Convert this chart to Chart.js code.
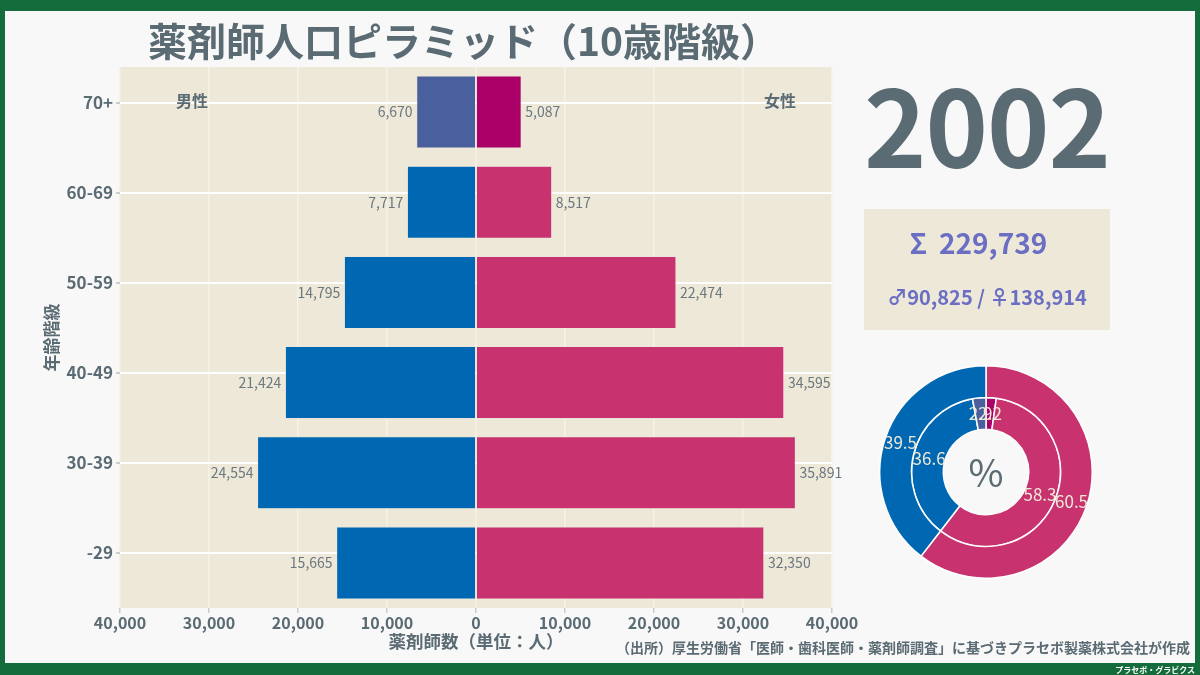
<!DOCTYPE html>
<html lang="ja">
<head>
<meta charset="utf-8">
<script src="https://cdn.jsdelivr.net/npm/chart.js@4.4.1/dist/chart.umd.min.js"></script>
<style>
  html, body { margin: 0; padding: 0; }
  body { width: 1200px; height: 675px; background: #146C3C; position: relative; overflow: hidden;
         font-family: "Noto Sans CJK JP", "Noto Sans", sans-serif; }
  #panel { position: absolute; left: 5px; top: 11px; width: 1190px; height: 652px; background: #F8F8F8; }
  #bar { position: absolute; left: 0; top: 0; }
  #donut { position: absolute; left: 879px; top: 365px; }
  .t { position: absolute; white-space: nowrap; color: #5A6B73; font-weight: 700; }
  #title { left: 148px; top: 14px; font-size: 39px; line-height: 50px; }
  #year { left: 864px; top: 62px; font-size: 106px; line-height: 120px; letter-spacing: -1px; }
  #box { position: absolute; left: 864px; top: 209px; width: 246px; height: 121px; background: #EEE8D8; }
  #sum { left: 864px; width: 229px; padding-right: 17px; text-align: center; top: 224px; font-size: 28px; line-height: 36px; color: #6B6FC4; }
  #sum .sig { margin-right: 12px; }
  #sub { left: 864px; width: 246px; text-align: center; top: 283px; font-size: 20px; line-height: 28px; color: #6B6FC4; }
  #male { left: 176px; top: 88px; font-size: 16px; line-height: 24px; }
  #female { left: 764px; top: 88px; font-size: 16px; line-height: 24px; }
  #src { right: 10px; top: 636px; font-size: 14px; line-height: 22px; font-weight: 700; }
  #brand { right: 5px; top: 664px; font-size: 8px; line-height: 11px; color: #ffffff; }
</style>
</head>
<body>
<div id="panel"></div>
<div id="box"></div>
<canvas id="bar" width="1200" height="675"></canvas>
<canvas id="donut" width="214" height="214"></canvas>
<div class="t" id="title">薬剤師人口ピラミッド（10歳階級）</div>
<div class="t" id="year"></div>
<div class="t" id="sum"><span class="sig">Σ</span><span id="sumv"></span></div>
<div class="t" id="sub"></div>
<div class="t" id="male">男性</div>
<div class="t" id="female">女性</div>
<div class="t" id="src">（出所）厚生労働省「医師・歯科医師・薬剤師調査」に基づきプラセボ製薬株式会社が作成</div>
<div class="t" id="brand">プラセボ・グラビクス</div>
<script>
const surveyYear = '2002';
const ageGroups = ['70+', '60-69', '50-59', '40-49', '30-39', '-29'];
const maleCounts = [6670, 7717, 14795, 21424, 24554, 15665];
const femaleCounts = [5087, 8517, 22474, 34595, 35891, 32350];
const xMin = -40000;
const xMax = 40000;
const xStep = 10000;

const MALE_OLD = '#4A5F9E', MALE = '#0068B2', FEMALE_OLD = '#AA0068', FEMALE = '#C8336F';
const SLATE = '#5A6B73';
const FONT = '"Noto Sans CJK JP", "Noto Sans", sans-serif';
const fmt = n => n.toLocaleString('en-US');

const maleTotal = maleCounts.reduce((a, b) => a + b, 0);
const femaleTotal = femaleCounts.reduce((a, b) => a + b, 0);
const total = maleTotal + femaleTotal;

document.getElementById('year').textContent = surveyYear;
document.getElementById('sumv').textContent = fmt(total);
document.getElementById('sub').textContent = '♂' + fmt(maleTotal) + ' / ♀' + fmt(femaleTotal);

const plotBg = {
  id: 'plotBg',
  beforeDraw(chart) {
    const { ctx, chartArea: a } = chart;
    ctx.save();
    ctx.fillStyle = '#EEE8D8';
    ctx.fillRect(a.left, a.top, a.right - a.left, a.bottom - a.top);
    ctx.restore();
  }
};

const barLabels = {
  id: 'barLabels',
  afterDatasetsDraw(chart) {
    const ctx = chart.ctx;
    ctx.save();
    ctx.font = '14px ' + FONT;
    ctx.fillStyle = '#6A7880';
    ctx.textBaseline = 'middle';
    chart.data.datasets.forEach((ds, di) => {
      chart.getDatasetMeta(di).data.forEach((el, i) => {
        const v = Math.abs(ds.data[i]);
        if (ds.data[i] < 0) { ctx.textAlign = 'right'; ctx.fillText(fmt(v), el.x - 4, el.y); }
        else { ctx.textAlign = 'left'; ctx.fillText(fmt(v), el.x + 4, el.y); }
      });
    });
    ctx.restore();
  }
};

// tick row offset: labels sit slightly above the bar centres in the original
const tickMin = -0.4;
const tickMax = tickMin + 541 / 90;

new Chart(document.getElementById('bar'), {
  type: 'bar',
  data: {
    labels: ageGroups,
    datasets: [
      { label: '男性', data: maleCounts.map(v => -v),
        backgroundColor: ageGroups.map((g, i) => i === 0 ? MALE_OLD : MALE),
        borderColor: 'rgba(225,225,225,0.9)', borderWidth: 0.6,
        barPercentage: 0.8, categoryPercentage: 1.0 },
      { label: '女性', data: femaleCounts,
        backgroundColor: ageGroups.map((g, i) => i === 0 ? FEMALE_OLD : FEMALE),
        borderColor: 'rgba(225,225,225,0.9)', borderWidth: 0.6,
        barPercentage: 0.8, categoryPercentage: 1.0 }
    ]
  },
  options: {
    indexAxis: 'y',
    responsive: false,
    animation: false,
    layout: { padding: { left: 40, top: 67, right: 368, bottom: 22 } },
    plugins: { legend: { display: false }, tooltip: { enabled: false } },
    scales: {
      x: {
        stacked: true, min: xMin, max: xMax,
        afterFit(s) { s.height = 45; },
        ticks: { stepSize: xStep, color: SLATE, font: { family: FONT, size: 16, weight: '600' },
                 padding: 0, maxRotation: 0, callback: v => fmt(Math.abs(v)) },
        grid: { color: '#F7F2E6', lineWidth: 1.5, drawTicks: true, tickLength: 5, tickColor: '#cccccc' },
        border: { display: false },
        title: { display: true, text: '薬剤師数（単位：人）', color: SLATE,
                 font: { family: FONT, size: 17.5, weight: '700' }, padding: { top: 0, bottom: 1 } }
      },
      y: {
        stacked: true,
        display: false
      },
      yl: {
        type: 'linear',
        position: 'left',
        reverse: true,
        offset: false,
        min: tickMin,
        max: tickMax,
        afterFit(s) { s.width = 80; },
        afterBuildTicks(s) { s.ticks = ageGroups.map((g, i) => ({ value: i })); },
        ticks: { color: SLATE, font: { family: FONT, size: 17, weight: '700' }, padding: 3,
                 callback: v => ageGroups[v] },
        grid: { offset: false, color: '#FFFFFF', lineWidth: 2, tickLength: 4, tickColor: '#cccccc' },
        border: { display: false },
        title: { display: true, text: '年齢階級', color: SLATE,
                 font: { family: FONT, size: 17, weight: '700' }, padding: { top: 1, bottom: 2 } }
      }
    }
  },
  plugins: [plotBg, barLabels]
});

const donutLabels = {
  id: 'donutLabels',
  afterDatasetsDraw(chart) {
    const ctx = chart.ctx;
    ctx.save();
    ctx.font = '17px ' + FONT;
    ctx.fillStyle = '#EEE8D8';
    ctx.textAlign = 'center';
    ctx.textBaseline = 'middle';
    chart.data.datasets.forEach((ds, di) => {
      const sum = ds.data.reduce((a, b) => a + b, 0);
      chart.getDatasetMeta(di).data.forEach((el, i) => {
        const p = el.tooltipPosition();
        ctx.fillText((ds.data[i] / sum * 100).toFixed(1), p.x, p.y);
      });
    });
    ctx.font = '38px ' + FONT;
    ctx.fillStyle = SLATE;
    const c = chart.getDatasetMeta(0).data[0];
    ctx.fillText('%', c.x, c.y + 1);
    ctx.restore();
  }
};

new Chart(document.getElementById('donut'), {
  type: 'doughnut',
  data: {
    labels: ['女性', '男性'],
    datasets: [
      { data: [femaleTotal, maleTotal], backgroundColor: [FEMALE, MALE],
        borderColor: '#FFFFFF', borderWidth: 1.5 },
      { data: [femaleCounts[0], femaleTotal - femaleCounts[0], maleTotal - maleCounts[0], maleCounts[0]],
        backgroundColor: [FEMALE_OLD, FEMALE, MALE, MALE_OLD],
        borderColor: '#FFFFFF', borderWidth: 1.5 }
    ]
  },
  options: {
    responsive: false,
    animation: false,
    cutout: '40.2%',
    layout: { padding: 0 },
    plugins: { legend: { display: false }, tooltip: { enabled: false } }
  },
  plugins: [donutLabels]
});
</script>
</body>
</html>
